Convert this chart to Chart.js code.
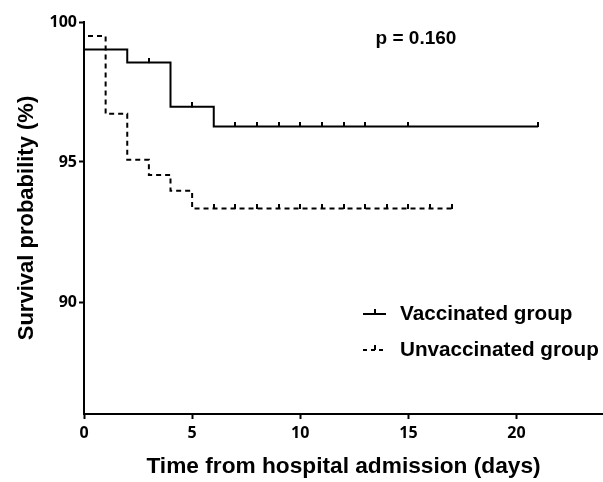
<!DOCTYPE html>
<html>
<head>
<meta charset="utf-8">
<script src="https://cdn.jsdelivr.net/npm/chart.js@4/dist/chart.umd.min.js"></script>
<style>
  html, body { margin: 0; padding: 0; background: #fff; }
  #wrap { width: 603px; height: 482px; }
</style>
</head>
<body>
<div id="wrap"><canvas id="c" width="603" height="482"></canvas></div>
<script>
// ---- Data ----
const vacTimes    = [0, 2, 4, 6];
const vacSurvival = [99.02, 98.55, 96.97, 96.27];
const vacEndTime  = 21;
const vacCensored = [3, 5, 7, 8, 9, 10, 11, 12, 13, 15, 21];

const unvTimes    = [0, 1, 2, 3, 4, 5];
const unvSurvival = [99.5, 96.72, 95.08, 94.54, 93.97, 93.34];
const unvEndTime  = 17;
const unvCensored = [6, 7, 8, 9, 10, 11, 12, 13, 14, 15, 16, 17];

const xTickValues = [0, 5, 10, 15, 20];
const yTickValues = [90, 95, 100];

const seriesNames = ['Vaccinated group', 'Unvaccinated group'];
const pValueText  = 'p = 0.160';
const xTitle = 'Time from hospital admission (days)';
const yTitle = 'Survival probability (%)';

// ---- Build step curves from event arrays ----
function stepPoints(times, surv, endTime) {
  const pts = [{x: 0, y: 100}];
  let prev = 100;
  for (let i = 0; i < times.length; i++) {
    pts.push({x: times[i], y: prev});
    pts.push({x: times[i], y: surv[i]});
    prev = surv[i];
  }
  pts.push({x: endTime, y: prev});
  return pts;
}
function survAt(times, surv, t) {
  let s = 100;
  for (let i = 0; i < times.length; i++) if (times[i] <= t) s = surv[i];
  return s;
}
function censorPoints(times, surv, cens) {
  return cens.map(t => ({x: t, y: survAt(times, surv, t)}));
}

// Tick mark (upward) image used as the censor marker
const tickImg = document.createElement('canvas');
tickImg.width = 2; tickImg.height = 9;
(function(){ const g = tickImg.getContext('2d'); g.fillStyle = '#000'; g.fillRect(0, 0, 2, 5); })();

const tickFont = { family: '"Open Sans", sans-serif', size: 16, weight: 'bold' };

const overlay = {
  id: 'overlay',
  afterDraw(chart) {
    const ctx = chart.ctx;
    ctx.save();
    ctx.fillStyle = '#000';
    ctx.strokeStyle = '#000';
    ctx.textBaseline = 'middle';
    // p value
    ctx.font = 'bold 19px "Liberation Sans", Arial, sans-serif';
    ctx.textAlign = 'center';
    ctx.fillText(pValueText, 416, 39);
    // legend
    ctx.textAlign = 'left';
    ctx.font = 'bold 20.7px "Liberation Sans", Arial, sans-serif';
    ctx.lineWidth = 2;
    // solid sample
    ctx.beginPath(); ctx.moveTo(363, 314); ctx.lineTo(386, 314); ctx.stroke();
    ctx.fillRect(374, 309, 2, 5);
    ctx.fillText(seriesNames[0], 400, 314);
    // dashed sample
    ctx.setLineDash([4, 4]);
    ctx.beginPath(); ctx.moveTo(363, 350); ctx.lineTo(386, 350); ctx.stroke();
    ctx.setLineDash([]);
    ctx.fillRect(374, 345, 2, 5);
    ctx.fillText(seriesNames[1], 400, 350);
    ctx.restore();
  }
};

new Chart(document.getElementById('c'), {
  type: 'scatter',
  data: {
    datasets: [
      { label: seriesNames[0], data: stepPoints(vacTimes, vacSurvival, vacEndTime),
        showLine: true, borderColor: '#000', borderWidth: 2, pointRadius: 0, fill: false },
      { label: seriesNames[1], data: stepPoints(unvTimes, unvSurvival, unvEndTime),
        showLine: true, borderColor: '#000', borderWidth: 2, borderDash: [5, 4], pointRadius: 0, fill: false },
      { label: 'vac censored', data: censorPoints(vacTimes, vacSurvival, vacCensored),
        showLine: false, pointStyle: tickImg, pointRadius: 4 },
      { label: 'unv censored', data: censorPoints(unvTimes, unvSurvival, unvCensored),
        showLine: false, pointStyle: tickImg, pointRadius: 4 }
    ]
  },
  options: {
    responsive: false,
    animation: false,
    events: [],
    layout: { autoPadding: false, padding: { top: 22, right: 0, left: 0, bottom: 0 } },
    plugins: { legend: { display: false }, tooltip: { enabled: false } },
    scales: {
      x: {
        type: 'linear', min: 0, max: 24,
        afterBuildTicks: s => { s.ticks = xTickValues.map(v => ({value: v})); },
        afterFit: s => { s.height = 68; s.paddingLeft = 0; s.paddingRight = 0; },
        border: { color: '#000', width: 2 },
        grid: { display: true, drawOnChartArea: false, drawTicks: true, tickLength: 5, tickColor: '#000', tickWidth: 2 },
        ticks: { color: '#000', padding: 5, font: tickFont },
        title: { display: true, text: xTitle, color: '#000', padding: { top: 0, bottom: 2 },
                 font: { family: '"Liberation Sans", Arial, sans-serif', size: 22.7, weight: 'bold' } }
      },
      y: {
        type: 'linear', min: 86, max: 100,
        afterBuildTicks: s => { s.ticks = yTickValues.map(v => ({value: v})); },
        afterFit: s => { s.width = 84; },
        border: { color: '#000', width: 2 },
        grid: { display: true, drawOnChartArea: false, drawTicks: true, tickLength: 5, tickColor: '#000', tickWidth: 2 },
        ticks: { color: '#000', padding: 2, font: tickFont },
        title: { display: true, text: yTitle, color: '#000', padding: { top: 14, bottom: 0 },
                 font: { family: '"Liberation Sans", Arial, sans-serif', size: 22, weight: 'bold' } }
      }
    }
  },
  plugins: [overlay]
});
</script>
</body>
</html>
